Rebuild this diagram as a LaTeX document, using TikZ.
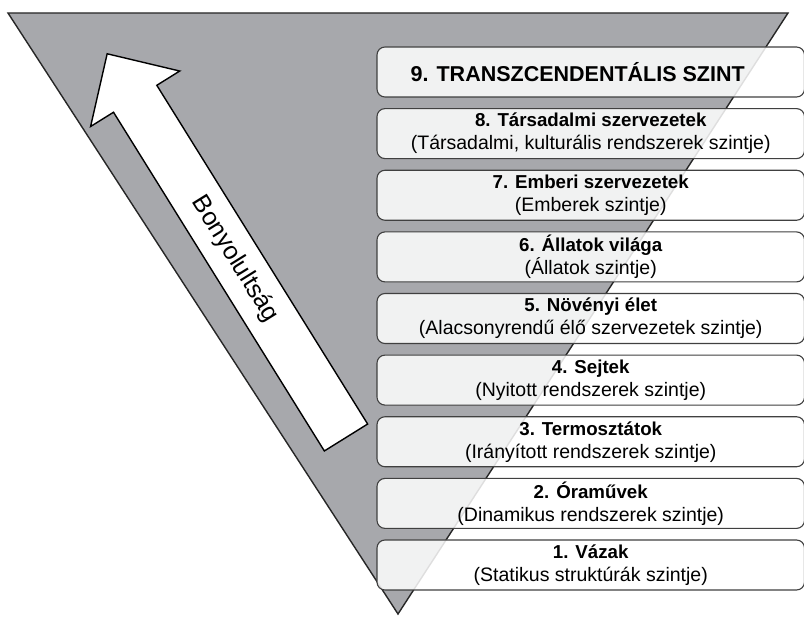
\documentclass[tikz,border=0pt]{standalone}
\usepackage{fontspec}
\setmainfont{Liberation Sans}
\definecolor{triGray}{RGB}{167,168,172}
\definecolor{boxLine}{RGB}{64,64,64}
\newcommand{\cim}[1]{{\fontsize{18.7}{23}\selectfont\textbf{#1}}}
\begin{document}
\begin{tikzpicture}[x=1pt, y=1pt,
	szint/.style={rectangle, draw=boxLine, line width=1.1pt, rounded corners=8pt, fill=white, fill opacity=0.85, text opacity=1, minimum width=427.5pt, minimum height=50pt, inner sep=0pt, align=center, font=\fontsize{19.5}{23}\selectfont}]
	\useasboundingbox (0,0) rectangle (804,-617);

	% triangle
	\draw[fill=triGray, draw=black!85, line width=1.4pt] (8,-13) -- (788,-13) -- (398,-614) -- cycle;

	% arrow
	\begin{scope}[shift={(346,-437.5)}, rotate=121.9]
		\draw[fill=white, line width=1.4pt] (0,-25.5) -- (399,-25.5) -- (399,-52.5) -- (452,0) -- (399,52.5) -- (399,25.5) -- (0,25.5) -- cycle;
		\node[rotate=-58.1, font=\fontsize{25}{30}\selectfont] (bony) at (210,0) {Bonyolultság};
	\end{scope}

	\node[szint] (s9) at (590.75,-72) {\hspace*{-26pt}{\fontsize{21.5}{23}\selectfont\textbf{9. TRANSZCENDENTÁLIS SZINT}}};
	\node[szint] (s8) at (590.75,-133.6) {\cim{8. Társadalmi szervezetek}\\(Társadalmi, kulturális rendszerek szintje)};
	\node[szint] (s7) at (590.75,-195.25) {\cim{7. Emberi szervezetek}\\(Emberek szintje)};
	\node[szint] (s6) at (590.75,-256.9) {\cim{6. Állatok világa}\\(Állatok szintje)};
	\node[szint] (s5) at (590.75,-318.5) {\cim{5. Növényi élet}\\(Alacsonyrendű élő szervezetek szintje)};
	\node[szint] (s4) at (590.75,-380.1) {\cim{4. Sejtek}\\(Nyitott rendszerek szintje)};
	\node[szint] (s3) at (590.75,-441.75) {\cim{3. Termosztátok}\\(Irányított rendszerek szintje)};
	\node[szint] (s2) at (590.75,-503.4) {\cim{2. Óraművek}\\(Dinamikus rendszerek szintje)};
	\node[szint] (s1) at (590.75,-565) {\cim{1. Vázak}\\(Statikus struktúrák szintje)};

\end{tikzpicture}
\end{document}
